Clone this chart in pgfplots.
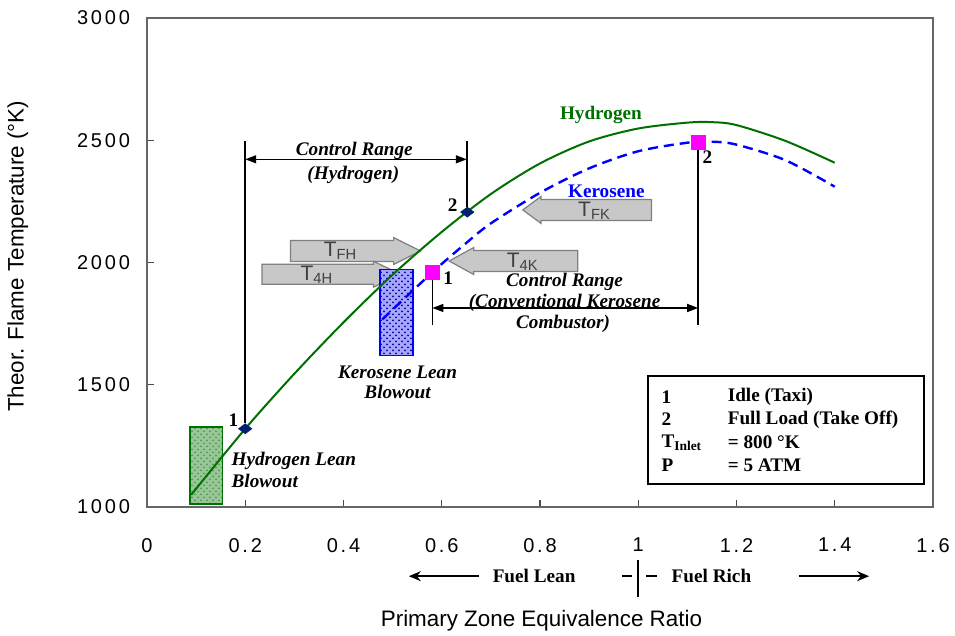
\documentclass[border=0pt]{standalone}
\usepackage{pgfplots}
\pgfplotsset{compat=1.18}
\usepackage{fontspec}
\setmainfont{Liberation Serif}
\setsansfont{Liberation Sans}
\newfontfamily\tickfont[LetterSpace=14]{Liberation Sans}
\usetikzlibrary{calc,patterns,arrows.meta}

\definecolor{hgreen}{RGB}{0,112,0}
\definecolor{kblue}{RGB}{0,0,255}
\definecolor{navyd}{RGB}{0,32,112}
\definecolor{pinkm}{RGB}{255,0,255}
\definecolor{grfill}{RGB}{200,200,200}
\definecolor{grline}{RGB}{128,128,128}

\newcommand\ann{\fontsize{9.6}{11}\selectfont\bfseries\itshape}
\newcommand\bld{\fontsize{9.6}{11}\selectfont\bfseries}
\newcommand\arr{\sffamily\fontsize{10.5}{12}\selectfont\color{black!75}}
\newcommand\lab{\sffamily\fontsize{11.2}{13}\selectfont}

\begin{document}
\begin{tikzpicture}
\begin{axis}[
    scale only axis, width=393pt, height=244.5pt,
    xmin=0, xmax=1.6, ymin=1000, ymax=3000,
    xtick={0,0.2,0.4,0.6,0.8,1,1.2,1.4,1.6},
    ytick={1000,1500,2000,2500,3000},
    scaled ticks=false,
    /pgf/number format/1000 sep={},
    /pgf/number format/assume math mode=true,
    tick label style={font=\tickfont\fontsize{10}{12}\selectfont},
    xticklabel style={yshift=-12pt},
    yticklabel style={xshift=-5pt},
    tick align=inside, xtick pos=left, ytick pos=left,
    major tick length=3.5pt, tick style={black!70, line width=0.7pt},
    axis line style={black!60, line width=0.9pt},
    clip=false]

% grey block arrows
\addplot[fill=grfill, draw=grline, line width=0.6pt] coordinates {
    (0.292,2004) (0.502,2004) (0.502,1992) (0.557,2047) (0.502,2102) (0.502,2090) (0.292,2090)} --cycle;
\addplot[fill=grfill, draw=grline, line width=0.6pt] coordinates {
    (0.234,1911) (0.461,1911) (0.461,1899) (0.516,1952) (0.461,2005) (0.461,1993) (0.234,1993)} --cycle;
\addplot[fill=grfill, draw=grline, line width=0.6pt] coordinates {
    (0.877,1963) (0.665,1963) (0.665,1951) (0.615,2006) (0.665,2061) (0.665,2049) (0.877,2049)} --cycle;
\addplot[fill=grfill, draw=grline, line width=0.6pt] coordinates {
    (1.027,2172) (0.802,2172) (0.802,2160) (0.765,2215) (0.802,2270) (0.802,2258) (1.027,2258)} --cycle;
\node[font=\arr] at (axis cs:0.394,2047) {T\textsubscript{FH}};
\node[font=\arr] at (axis cs:0.346,1950) {T\textsubscript{4H}};
\node[font=\arr] at (axis cs:0.765,2003) {T\textsubscript{4K}};
\node[font=\arr] at (axis cs:0.911,2212) {T\textsubscript{FK}};

% lean blowout regions
\addplot[draw=hgreen, line width=0.8pt, fill=hgreen!40,
    postaction={pattern=crosshatch dots, pattern color=hgreen!70}] coordinates {
    (0.088,1012) (0.154,1012) (0.154,1328) (0.088,1328)} --cycle;
\addplot[draw=kblue, line width=0.8pt, fill=kblue!35,
    postaction={pattern=crosshatch dots, pattern color=kblue!60!black}] coordinates {
    (0.474,1620) (0.541,1620) (0.541,1971) (0.474,1971)} --cycle;

% flame temperature curves
\addplot[hgreen, line width=1pt, smooth] coordinates {
    (0.09,1050) (0.2,1320) (0.3,1545) (0.4,1755) (0.5,1950) (0.6,2125)
    (0.7,2280) (0.8,2405) (0.9,2495) (1.0,2548) (1.1,2572) (1.15,2574)
    (1.2,2562) (1.3,2497) (1.4,2408)};
\addplot[kblue, line width=1.2pt, smooth, dash pattern=on 5pt off 3pt] coordinates {
    (0.479,1767) (0.581,1960) (0.65,2080) (0.7,2160) (0.8,2285) (0.9,2385)
    (1.0,2455) (1.1,2490) (1.15,2494) (1.2,2482) (1.3,2418) (1.4,2310)};

% control range lines
\draw[line width=0.9pt] (axis cs:0.2,1345) -- (axis cs:0.2,2496);
\draw[line width=0.9pt] (axis cs:0.651,2225) -- (axis cs:0.651,2496);
\draw[line width=0.7pt, {Triangle[length=5.5pt,width=4pt]}-{Triangle[length=5.5pt,width=4pt]}]
    (axis cs:0.2,2422) -- (axis cs:0.651,2422);
\draw[line width=0.9pt] (axis cs:0.581,1930) -- (axis cs:0.581,1743);
\draw[line width=0.9pt] (axis cs:1.122,2470) -- (axis cs:1.122,1743);
\draw[line width=0.7pt, {Triangle[length=5.5pt,width=4pt]}-{Triangle[length=5.5pt,width=4pt]}]
    (axis cs:0.581,1814) -- (axis cs:1.122,1814);

% operating points
\addplot[only marks, mark=diamond*, mark size=3.25pt,
    mark options={rotate=90, fill=navyd, draw=navyd}] coordinates {(0.2,1320) (0.652,2206)};
\addplot[only marks, mark=square*, mark size=3.5pt,
    mark options={fill=pinkm, draw=pinkm}] coordinates {(0.581,1960) (1.122,2490)};

\node[font=\bld] at (axis cs:0.176,1354) {1};
\node[font=\bld] at (axis cs:0.622,2235) {2};
\node[font=\bld] at (axis cs:0.613,1934) {1};
\node[font=\bld] at (axis cs:1.141,2429) {2};

\node[font=\bld, text=hgreen] at (axis cs:0.924,2604) {Hydrogen};
\node[font=\bld, text=kblue] at (axis cs:0.935,2290) {Kerosene};

\node[font=\ann] at (axis cs:0.422,2455) {Control Range};
\node[font=\ann] at (axis cs:0.42,2357) {(Hydrogen)};
\node[font=\ann] at (axis cs:0.850,1921) {Control Range};
\node[font=\ann] at (axis cs:0.850,1836) {(Conventional Kerosene};
\node[font=\ann] at (axis cs:0.847,1750) {Combustor)};
\node[font=\ann] at (axis cs:0.51,1552) {Kerosene Lean};
\node[font=\ann] at (axis cs:0.51,1470) {Blowout};
\node[font=\ann, anchor=west] at (axis cs:0.158,1190) {Hydrogen Lean};
\node[font=\ann, anchor=west] at (axis cs:0.158,1108) {Blowout};

% key box
\draw[line width=0.9pt, fill=white] (axis cs:1.02,1094) rectangle (axis cs:1.581,1536);
\node[font=\bld, anchor=west] at (axis cs:1.033,1450) {1};
\node[font=\bld, anchor=west] at (axis cs:1.033,1358) {2};
\node[font=\bld, anchor=west] at (axis cs:1.033,1262) {T\textsubscript{Inlet}};
\node[font=\bld, anchor=west] at (axis cs:1.033,1169) {P};
\node[font=\bld, anchor=west] at (axis cs:1.168,1450) {Idle (Taxi)};
\node[font=\bld, anchor=west] at (axis cs:1.168,1358) {Full Load (Take Off)};
\node[font=\bld, anchor=west] at (axis cs:1.168,1265) {= 800 °K};
\node[font=\bld, anchor=west] at (axis cs:1.168,1169) {= 5 ATM};

% fuel lean / rich row
\draw[line width=0.8pt, -{Stealth[length=6pt,width=5pt]}] (axis cs:0.676,717) -- (axis cs:0.533,717);
\node[font=\bld] at (axis cs:0.788,717) {Fuel Lean};
\draw[line width=0.8pt] (axis cs:0.966,717) -- (axis cs:0.988,717);
\draw[line width=0.8pt] (axis cs:1.0,785) -- (axis cs:1.0,633);
\draw[line width=0.8pt] (axis cs:1.016,717) -- (axis cs:1.039,717);
\node[font=\bld] at (axis cs:1.149,717) {Fuel Rich};
\draw[line width=0.8pt, -{Stealth[length=6pt,width=5pt]}] (axis cs:1.327,717) -- (axis cs:1.47,717);

% axis titles
\node[font=\lab, rotate=90] at (axis cs:-0.263,2025) {Theor. Flame Temperature (°K)};
\node[font=\lab] at (axis cs:0.803,535) {Primary Zone Equivalence Ratio};

\coordinate (O) at (rel axis cs:0,0);
\end{axis}
\pgfresetboundingbox
\path ($(O)+(-73.5pt,-64.25pt)$) rectangle ($(O)+(404pt,253.5pt)$);
\end{tikzpicture}
\end{document}
